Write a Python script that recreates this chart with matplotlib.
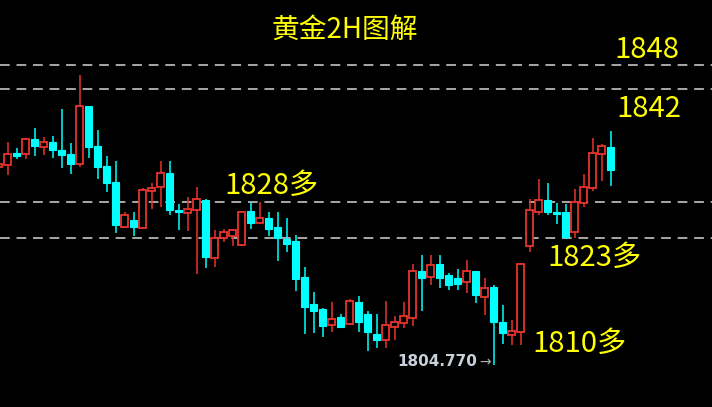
import matplotlib.pyplot as plt
from matplotlib.patches import Rectangle

plt.rcParams['font.family'] = ['Noto Sans CJK SC', 'DejaVu Sans']

# 2H candles (oldest first)
opens = [1833.00, 1833.29, 1835.00, 1834.86, 1837.00, 1835.86, 1836.57, 1835.43, 1834.86, 1833.43,
         1841.71, 1836.00, 1833.14, 1830.86, 1824.43, 1825.43, 1824.29, 1829.57, 1830.14, 1832.14,
         1826.86, 1826.43, 1826.86, 1828.29, 1820.00, 1822.86, 1823.14, 1821.86, 1826.71, 1825.00,
         1825.71, 1824.43, 1822.71, 1822.43, 1817.29, 1813.43, 1812.71, 1810.43, 1811.57, 1810.57,
         1813.71, 1812.00, 1809.14, 1808.29, 1810.14, 1810.71, 1811.43, 1818.14, 1817.29, 1819.14,
         1817.57, 1817.14, 1816.57, 1818.14, 1814.43, 1815.86, 1810.86, 1809.00, 1809.43, 1821.71,
         1826.57, 1828.29, 1826.57, 1826.57, 1823.71, 1827.86, 1830.00, 1834.86, 1835.86]
highs = [1833.57, 1836.57, 1835.71, 1837.14, 1838.57, 1837.29, 1837.43, 1841.29, 1836.43, 1846.14,
         1841.71, 1838.29, 1834.57, 1833.86, 1826.57, 1826.57, 1830.00, 1830.71, 1833.86, 1833.86,
         1827.71, 1828.71, 1830.14, 1828.43, 1824.00, 1824.14, 1824.14, 1826.71, 1828.00, 1828.00,
         1826.57, 1826.57, 1825.71, 1823.29, 1818.71, 1815.14, 1812.86, 1813.71, 1812.00, 1814.14,
         1814.57, 1812.43, 1812.00, 1813.86, 1811.71, 1813.71, 1819.14, 1820.43, 1820.43, 1820.43,
         1817.86, 1818.43, 1819.71, 1818.14, 1817.14, 1816.14, 1813.29, 1811.14, 1819.29, 1828.43,
         1831.29, 1830.71, 1827.86, 1827.71, 1829.86, 1832.00, 1837.14, 1836.29, 1838.14]
lows = [1832.86, 1831.86, 1834.14, 1834.14, 1834.57, 1834.71, 1834.29, 1832.86, 1832.00, 1833.00,
        1834.29, 1831.29, 1829.43, 1823.57, 1824.29, 1823.14, 1824.14, 1827.00, 1827.29, 1826.14,
        1824.00, 1823.86, 1817.71, 1818.57, 1818.71, 1822.29, 1821.71, 1821.71, 1824.14, 1824.86,
        1823.14, 1819.57, 1820.86, 1815.29, 1809.14, 1809.29, 1808.71, 1809.43, 1810.00, 1810.43,
        1809.43, 1806.71, 1807.14, 1807.14, 1808.29, 1810.00, 1810.29, 1812.43, 1816.14, 1815.71,
        1815.43, 1815.43, 1815.00, 1813.57, 1811.86, 1804.77, 1807.71, 1807.57, 1807.57, 1820.86,
        1826.14, 1826.14, 1824.86, 1822.71, 1822.86, 1827.29, 1829.57, 1831.00, 1830.29]
closes = [1833.43, 1834.86, 1834.57, 1837.00, 1836.00, 1836.57, 1835.43, 1834.71, 1833.43, 1841.71,
          1835.86, 1833.00, 1830.71, 1824.71, 1826.14, 1824.43, 1829.71, 1830.00, 1832.14, 1826.86,
          1826.57, 1827.00, 1828.43, 1820.14, 1822.86, 1823.71, 1824.00, 1826.57, 1825.00, 1825.71,
          1824.14, 1822.86, 1822.00, 1817.00, 1813.00, 1812.43, 1810.29, 1811.29, 1810.14, 1813.86,
          1810.86, 1809.43, 1808.29, 1810.43, 1810.86, 1811.71, 1818.14, 1817.14, 1819.00, 1817.14,
          1816.14, 1816.29, 1818.14, 1814.71, 1815.71, 1810.86, 1809.29, 1809.57, 1819.14, 1826.86,
          1828.29, 1826.57, 1826.29, 1823.00, 1828.00, 1830.14, 1835.00, 1836.00, 1832.57]

levels = [1847.57, 1844.14, 1828.00, 1822.86]
title = '黄金2H图解'
labels = ['1848', '1842', '1828多', '1823多', '1810多']
low_label = '1804.770'

red = '#e8342c'
cyan = '#00ffff'

fig = plt.figure(figsize=(7.12, 4.07), dpi=100, facecolor='black')
ax = fig.add_axes([0, 0, 1, 1])
ax.set_facecolor('black')

for lv in levels:
    ax.axhline(lv, color='#a8a8a8', lw=1.4, ls=(0, (5, 3.5)), zorder=1)

w = 0.78
for i in range(len(opens)):
    o, h, l, c = opens[i], highs[i], lows[i], closes[i]
    col = red if c >= o else cyan
    ax.plot([i, i], [l, h], color=col, lw=1.1, zorder=2, solid_capstyle='butt')
    bot = min(o, c)
    hgt = max(abs(c - o), 0.3)
    if c >= o:
        ax.add_patch(Rectangle((i - w / 2, bot), w, hgt, facecolor='black',
                               edgecolor=red, lw=1.3, zorder=3))
    else:
        ax.add_patch(Rectangle((i - w / 2, bot), w, hgt, facecolor=cyan,
                               edgecolor=cyan, lw=0.8, zorder=3))

ax.set_xlim(1.5 / 9, 713.5 / 9)
ax.set_ylim(1828 - 205 / 7, 1828 + 202 / 7)
ax.axis('off')

W, H = 712, 407
def ft(x, y, s, **kw):
    fig.text(x / W, 1 - y / H, s, **kw)

ft(345, 30, title, color='yellow', fontsize=20, ha='center', va='center')
ft(614, 50, labels[0], color='yellow', fontsize=21, ha='left', va='center')
ft(616, 109, labels[1], color='yellow', fontsize=21, ha='left', va='center')
ft(224, 186, labels[2], color='yellow', fontsize=21, ha='left', va='center')
ft(547, 258, labels[3], color='yellow', fontsize=21, ha='left', va='center')
ft(532, 344, labels[4], color='yellow', fontsize=21, ha='left', va='center')
ft(397, 362, low_label, color='#c8d0da', fontsize=11, fontweight='bold',
   ha='left', va='center', family=['DejaVu Sans'])
ft(491, 362, '→', color='#b0b0b0', fontsize=10, ha='right', va='center',
   family=['DejaVu Sans'])

fig.savefig('out.png', dpi=100, facecolor='black')
